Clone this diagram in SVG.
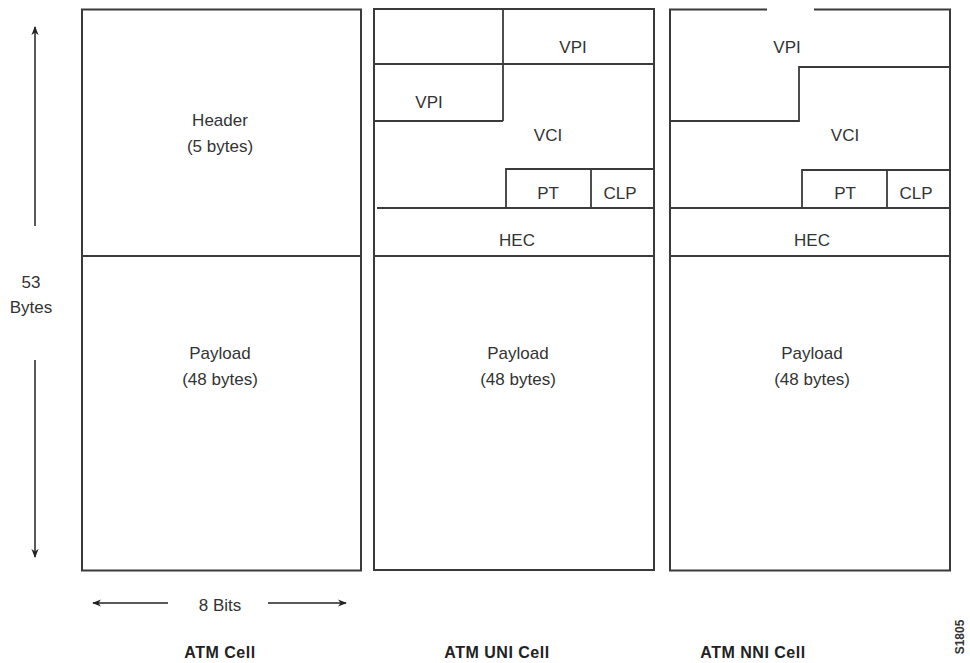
<svg xmlns="http://www.w3.org/2000/svg" width="970" height="663" viewBox="0 0 970 663">
<defs>
<style>
.b{fill:none;stroke:#3a3a3a;stroke-width:2}
.l{fill:none;stroke:#3a3a3a;stroke-width:1.8}
.a{fill:none;stroke:#222;stroke-width:1.5}
.t{font-family:"Liberation Sans",Arial,sans-serif;font-size:17px;fill:#333;text-anchor:middle}
.h{font-family:"Liberation Sans",Arial,sans-serif;font-size:16px;font-weight:bold;fill:#222;text-anchor:middle;letter-spacing:0.5px}
</style>
<marker id="ar" viewBox="0 0 10 10" refX="9" refY="5" markerWidth="9" markerHeight="9" markerUnits="userSpaceOnUse" orient="auto">
<path d="M0,1 L10,5 L0,9 L3,5 Z" fill="#222"/>
</marker>
</defs>
<rect width="970" height="663" fill="#fff"/>

<g id="atm-cell">
<rect class="b" x="82" y="9.5" width="279" height="561"/>
<line class="l" x1="82" y1="256" x2="361" y2="256"/>
<text class="t" x="220" y="126">Header</text>
<text class="t" x="220" y="152">(5 bytes)</text>
<text class="t" x="220" y="359">Payload</text>
<text class="t" x="220" y="385">(48 bytes)</text>
</g>

<g id="atm-uni-cell">
<rect class="b" x="374" y="9" width="280" height="561"/>
<line class="l" x1="374" y1="64" x2="654" y2="64"/>
<line class="l" x1="503" y1="9" x2="503" y2="121"/>
<line class="l" x1="374" y1="121" x2="503" y2="121"/>
<polyline class="l" points="506,208 506,169 654,169"/>
<line class="l" x1="591" y1="169" x2="591" y2="208"/>
<line class="l" x1="377" y1="208" x2="654" y2="208"/>
<line class="l" x1="374" y1="256" x2="654" y2="256"/>
<text class="t" x="573" y="53">VPI</text>
<text class="t" x="429" y="108">VPI</text>
<text class="t" x="548" y="141">VCI</text>
<text class="t" x="548" y="199">PT</text>
<text class="t" x="620" y="199">CLP</text>
<text class="t" x="517" y="246">HEC</text>
<text class="t" x="518" y="359">Payload</text>
<text class="t" x="518" y="385">(48 bytes)</text>
</g>

<g id="atm-nni-cell">
<polyline class="b" points="767,9.5 670,9.5 670,570.5 950,570.5 950,9.5 814,9.5"/>
<polyline class="l" points="950,67 799,67 799,121 670,121"/>
<polyline class="l" points="802,208 802,170 950,170"/>
<line class="l" x1="887" y1="170" x2="887" y2="208"/>
<line class="l" x1="670" y1="208" x2="950" y2="208"/>
<line class="l" x1="670" y1="256" x2="950" y2="256"/>
<text class="t" x="787" y="53">VPI</text>
<text class="t" x="845" y="141">VCI</text>
<text class="t" x="845" y="199">PT</text>
<text class="t" x="916" y="199">CLP</text>
<text class="t" x="812" y="246">HEC</text>
<text class="t" x="812" y="359">Payload</text>
<text class="t" x="812" y="385">(48 bytes)</text>
</g>

<g id="connectors">
<line class="a" x1="35" y1="226" x2="35" y2="27" marker-end="url(#ar)"/>
<line class="a" x1="35" y1="360" x2="35" y2="557" marker-end="url(#ar)"/>
<line class="a" x1="168" y1="603" x2="93" y2="603" marker-end="url(#ar)"/>
<line class="a" x1="268" y1="603" x2="346" y2="603" marker-end="url(#ar)"/>
</g>

<g id="labels">
<text class="t" x="31" y="288">53</text>
<text class="t" x="31" y="313">Bytes</text>
<text class="t" x="220" y="611">8 Bits</text>
<text class="h" x="220" y="658">ATM Cell</text>
<text class="h" x="497" y="658">ATM UNI Cell</text>
<text class="h" x="753" y="658">ATM NNI Cell</text>
<text font-family="Liberation Sans,Arial,sans-serif" font-size="12" font-weight="bold" fill="#333" text-anchor="middle" transform="translate(964,637) rotate(-90)">S1805</text>
</g>
</svg>
